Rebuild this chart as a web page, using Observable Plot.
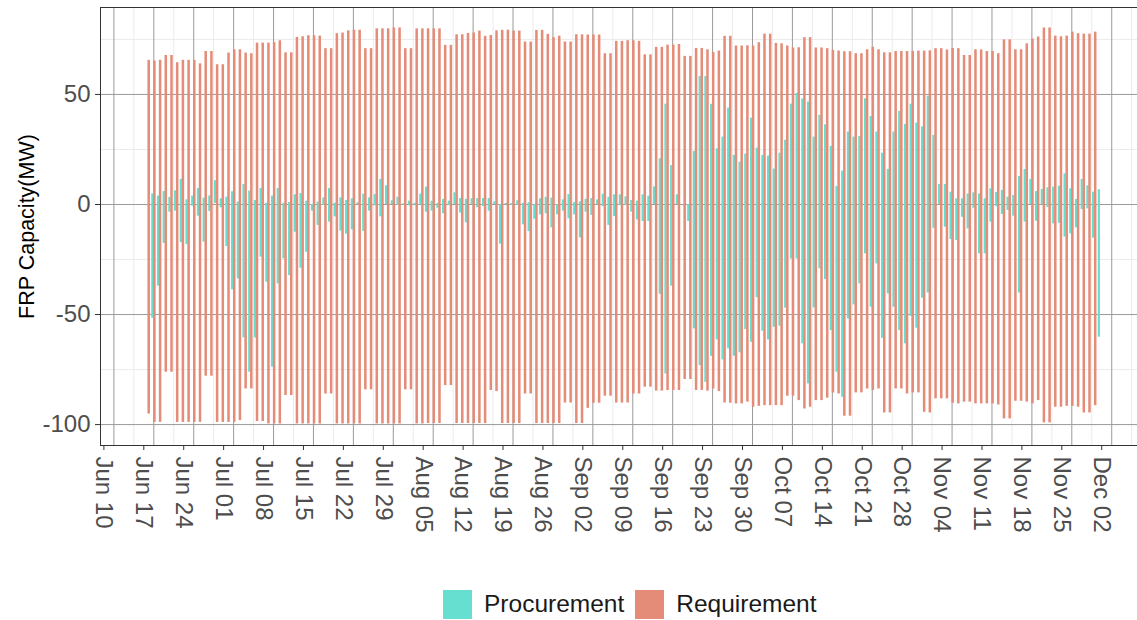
<!DOCTYPE html>
<html>
<head>
<meta charset="utf-8">
<script src="https://cdn.jsdelivr.net/npm/d3@7"></script>
<script src="https://cdn.jsdelivr.net/npm/@observablehq/plot@0.6"></script>
<style>
  html, body { margin: 0; padding: 0; background: #fff; }
  body { width: 1137px; height: 620px; overflow: hidden; font-family: "Liberation Sans", Arial, sans-serif; }
  #chart svg { display: block; }
  #legend { height: 40px; padding-top: 8px; display: flex; align-items: center; padding-left: 443px; box-sizing: border-box; font-size: 24.5px; color: #1a1a1a; }
  #legend .sw { width: 29px; height: 29px; display: inline-block; }
  #legend .lab { margin-left: 12px; margin-right: 11px; }
</style>
</head>
<body>
<div id="chart"></div>
<div id="legend"></div>
<script>
// ---- data ----
const startDay = "2018-06-16";
const seriesNames = ["Procurement", "Requirement"];
const seriesColors = ["#66DFD1", "#E48C77"];
const yTitle = "FRP Capacity(MW)";
const yTicks = [-100, -50, 0, 50];
const yMinor = [-75, -25, 25, 75];
const tickDates = ["2018-06-10","2018-06-17","2018-06-24","2018-07-01","2018-07-08","2018-07-15","2018-07-22","2018-07-29","2018-08-05","2018-08-12","2018-08-19","2018-08-26","2018-09-02","2018-09-09","2018-09-16","2018-09-23","2018-09-30","2018-10-07","2018-10-14","2018-10-21","2018-10-28","2018-11-04","2018-11-11","2018-11-18","2018-11-25","2018-12-02"];

const reqUp = [65.5,65.2,65.5,67.7,67.7,64.4,65.5,65.5,65.5,63.9,
69.5,69.5,63.5,63.5,68.8,70.3,70.3,68.8,68.5,73.3,
73.3,73.3,73.6,74.4,68.9,68.9,75.9,76.2,76.7,76.7,
76.5,70.8,70.8,77.6,77.9,78.9,79.2,79.2,70.8,70.8,
79.8,79.8,79.8,80.2,80.2,70.8,70.8,79.8,79.8,79.8,
79.8,79.8,72.3,72.3,77.1,77.1,77.7,77.9,78.8,76.4,
76.8,78.9,79.1,79.2,78.8,78.8,73.8,73.8,79.1,79.1,
77.3,75.8,76.5,73.8,73.8,77.1,77.1,77,77,77,
68.5,68.5,74.1,74.1,74.4,74.4,74.1,68,68,71.4,
71.4,72.4,72.4,72.7,67.3,67.3,70.9,70.9,70.3,69,
69.7,76.4,76.4,72,72,72.1,72,73.5,77.4,77.4,
73.2,73,72,71.1,71.2,75.8,75.8,71.1,71.1,70.8,
70,69.7,69.4,69.4,68.5,68.5,70.3,71.4,70.3,68.9,
68.9,69.5,69.5,69.5,69.5,69.7,69.7,69.8,70.8,70.8,
70.2,70.9,70.8,67.7,67.7,70.3,70.2,69.5,69.5,68.5,
74.8,74.8,70.3,70.3,73,75.2,76.1,80.2,80.2,76.5,
76.2,76.5,78.3,77.6,77.4,77.4,78.3];

const reqDown = [-95.2,-99,-99,-76.2,-76.2,-99,-99,-99,-99,-99,
-78,-78,-99,-99,-99,-99,-98.2,-83.8,-83.8,-98.6,
-98.6,-99.7,-99.7,-99.7,-86.8,-86.8,-99.7,-99.7,-99.7,-99.7,
-99.7,-86.1,-86.1,-99.7,-99.7,-99.7,-99.7,-99.7,-84.2,-84.2,
-99.7,-99.7,-99.7,-99.7,-99.7,-84.2,-84.2,-99.7,-99.7,-99.5,
-99.5,-99.5,-82.3,-82.3,-99.5,-99.5,-99.5,-99.5,-99.5,-99.5,
-84.5,-85,-99.5,-99.5,-99.5,-99.5,-86.1,-86.1,-99.5,-99.5,
-99.5,-99.5,-99.5,-90.2,-90.2,-99.5,-99.5,-92.6,-90.3,-90.3,
-87.1,-87.1,-90.2,-90.2,-90.2,-86.1,-86.1,-83,-83,-84.8,
-84.8,-84.5,-84.5,-84.5,-79.5,-79.5,-84.5,-84.5,-84.8,-83.8,
-85,-90.2,-90.3,-90.6,-90.6,-89.8,-92.1,-91.7,-91.4,-91.4,
-91.4,-91.4,-87.1,-87.1,-89.1,-92.9,-92.1,-89.1,-89.1,-88,
-85.6,-86.1,-96.2,-96.2,-85.6,-85.6,-83.8,-84.5,-83.8,-94.7,
-94.7,-83.8,-83.8,-86.1,-85.6,-85.6,-94.4,-94.7,-88.3,-88.3,
-88.3,-90.3,-90.6,-89.8,-89.8,-90.6,-90.6,-90.6,-90.6,-91.1,
-97.4,-97.4,-89.4,-89.4,-89.8,-90.6,-89.1,-99.2,-99.2,-92.1,
-92.1,-91.7,-91.7,-92.1,-94.7,-94.7,-91.4];

const procUp = [4.8,3.8,5.9,3.2,6.2,11.4,2.1,3.8,7.3,2.9,
3.9,10.8,2.6,3.3,5.8,1.1,9.1,6.1,1.8,7.3,
0.6,3.8,7.3,0.6,0.9,4.4,5,1.5,0,1.1,
3,7.3,0.6,3,1.8,2.6,0.8,4.7,3,4.5,
11.4,8.5,1.7,3.3,0.3,1.5,0.5,4.7,7.9,1.5,
0.5,2.3,1.5,5.3,2.7,2.3,2.6,2.7,2.7,2.7,
1.2,0,0.5,0.5,1.7,0.6,0.8,0,2.6,3.3,
2.9,0,2.1,4.5,0.9,1.2,2.4,2.7,2.1,4.7,
3.3,4.4,4.4,3.5,1.8,1.5,4.4,3.8,8,20.8,
45.6,17.7,4.4,0,0,24.1,58.2,58.2,45.5,25.3,
30.6,43.8,22.3,19.2,22.9,39.2,25.6,22.3,22,16.1,
23.3,29.2,45.6,50.5,47.9,46.5,30.6,40.5,36.2,26.4,
8.2,15.2,32.9,30.6,30.9,48,40,32.9,23.3,15.9,
32.9,42.3,36.4,45.6,37,35.2,49.2,31.4,9.1,9.1,
5.6,2.6,2.6,4.8,5.3,4.8,2.6,7.1,5.5,6.4,
3.3,4.1,12.7,15.9,11.4,5.9,6.8,7.6,7.9,8.3,
13.9,7.1,2.3,11.4,8.5,5.6,6.7];

const procDown = [-51.7,-37.1,-17.7,-3.5,-3,-17.3,-18.2,-0.8,-5.3,-17.1,
-3.2,0.5,-1.5,-19.1,-38.8,-33.8,-60.6,-76.2,-60.6,-23.9,
-35.3,-73.9,-36.1,-24.7,-32.3,-12.6,-28.9,-21.7,-3,-9.5,
-0.5,-8,-5.6,-12.1,-13.5,-11.5,0,-12.3,-3,-0.6,
-5.6,0,0,-0.5,-0.3,-0.6,-0.3,-0.3,-3.5,-3,
-1.7,-4.2,-0.5,0,-3.9,-8.3,0,-1.5,-1,-3,
0,-18,0,-0.5,-0.5,-9.2,-12.3,-6.7,-4.7,-4.2,
-10.6,-4.7,-3,-6.5,-4.7,-15.2,-3.5,-5,0,-1,
-9.5,-5.5,-0.5,-0.5,-3.5,-7,-7.7,-7.7,0,-40.8,
-77,-37.1,0,0,-7.7,-56.5,-73.2,-80.8,-69,-61.5,
-70.6,-65.6,-68.9,-67.4,-56.8,-62.6,-42.3,-57.6,-61.5,-55.8,
-55.3,-47.1,-24.7,-24.7,-63.3,-81.5,-47,-29.2,-34.1,-57.3,
-76.2,-87.6,-52,-45.6,-36.1,-22.4,-46.7,-27,-60.8,-40.6,
-46.7,-57.3,-63.3,-50.8,-56.2,-42.6,-40.2,-10.8,0,-10.3,
-15.9,-16.4,-5.8,-11.1,-1.7,-22.4,-22.4,-8,-1,-4.5,
-2.7,-5.3,-40.2,-8,0,-7.6,0,-1.4,-8.8,-8.5,
-14.8,-13.3,-10.6,-2.3,-2,-15.3,-60.3];

// ---- build table ----
const parse = d3.utcParse("%Y-%m-%d");
const fmt = d3.utcFormat("%b %d");
const t0 = parse(startDay);
const shift = (d, f) => new Date(+d + f * 864e5);
const rows = [];
reqUp.forEach((_, i) => {
  const d = d3.utcDay.offset(t0, i);
  rows.push({series: "Requirement", a: shift(d, -0.03), b: shift(d, 0.41), lo: reqDown[i], hi: reqUp[i]});
  if (procUp[i] !== procDown[i]) rows.push({series: "Procurement", a: shift(d, 0.63), b: shift(d, 1.02), lo: procDown[i], hi: procUp[i]});
});
const majorX = tickDates.map(parse);
const minorX = majorX.map(d => shift(d, 3.5));

const chart = Plot.plot({
  width: 1137, height: 580,
  marginLeft: 100, marginRight: 0, marginTop: 7, marginBottom: 135,
  style: {fontFamily: "'Liberation Sans', Arial, sans-serif", background: "#fff", overflow: "visible"},
  x: {type: "utc", domain: [new Date(Date.UTC(2018, 5, 7, 15, 36)), new Date(Date.UTC(2018, 11, 6, 12, 30))]},
  y: {domain: [-109.5, 89.5]},
  color: {domain: seriesNames, range: seriesColors},
  marks: [
    Plot.ruleY(yMinor, {stroke: "#ebebeb", strokeWidth: 1}),
    Plot.ruleX(minorX, {stroke: "#ebebeb", strokeWidth: 1}),
    Plot.ruleY(yTicks, {stroke: "#9a9a9a", strokeWidth: 1}),
    Plot.ruleX(majorX, {stroke: "#9a9a9a", strokeWidth: 1}),
    Plot.rect(rows, {x1: "a", x2: "b", y1: "lo", y2: "hi", fill: "series"}),
    Plot.frame({stroke: "#333", strokeWidth: 1}),
    Plot.axisY(yTicks, {tickSize: 5, tickPadding: 5, fontSize: 24, fill: "#4d4d4d", stroke: "#333", label: null, tickFormat: d => String(d)}),
    Plot.axisX(majorX, {tickSize: 5, tickPadding: 6, tickRotate: 90, fontSize: 24, fill: "#4d4d4d", stroke: "#333", label: null, tickFormat: fmt, dx: -10}),
    Plot.text([yTitle], {frameAnchor: "left", rotate: -90, dx: -67, textAnchor: "middle", lineAnchor: "bottom", fontSize: 21.5, fill: "#000"})
  ]
});
document.getElementById("chart").appendChild(chart);

const legend = document.getElementById("legend");
seriesNames.forEach((name, i) => {
  const sw = document.createElement("span");
  sw.className = "sw";
  sw.style.background = seriesColors[i];
  const lab = document.createElement("span");
  lab.className = "lab";
  lab.textContent = name;
  legend.appendChild(sw);
  legend.appendChild(lab);
});
</script>
</body>
</html>
